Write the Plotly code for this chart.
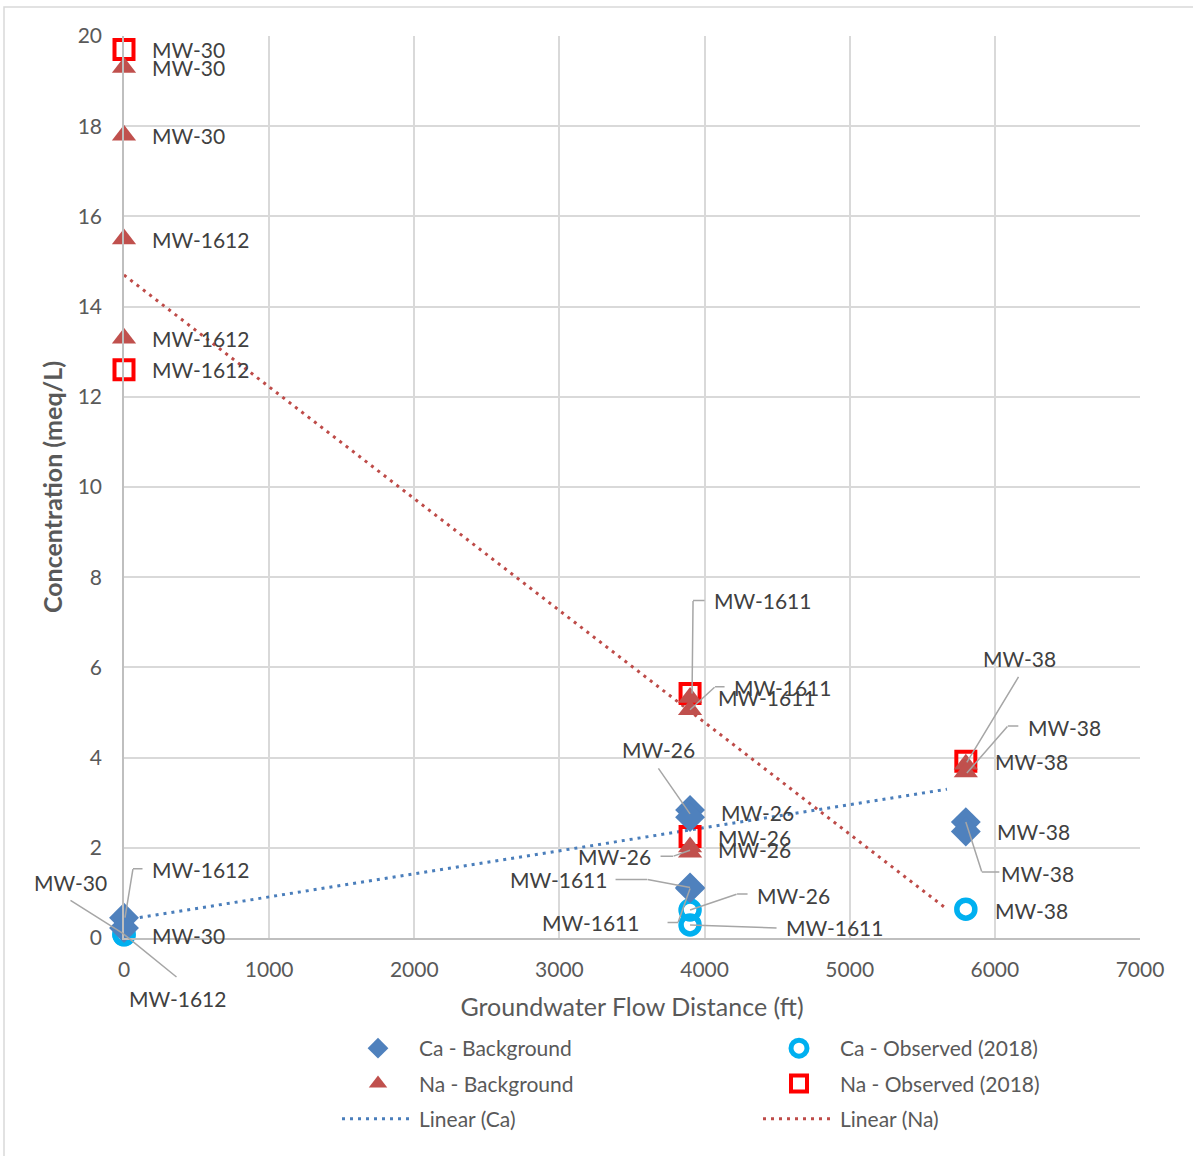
import plotly.graph_objects as go

# ---- data -------------------------------------------------------------
# Ca - Background
ca_bg_x = [0, 0, 3900, 3900, 3900, 3900, 5800, 5800]
ca_bg_y = [0.45, 0.22, 2.84, 2.68, 1.12, 1.10, 2.57, 2.36]
ca_bg_well = ["MW-1612", "MW-30", "MW-26", "MW-26", "MW-1611", "MW-1611", "MW-38", "MW-38"]

# Ca - Observed (2018)
ca_obs_x = [0, 0, 3900, 3900, 5800]
ca_obs_y = [0.07, 0.08, 0.62, 0.29, 0.64]
ca_obs_well = ["MW-30", "MW-1612", "MW-26", "MW-1611", "MW-38"]

# Na - Background
na_bg_x = [0, 0, 0, 0, 3900, 3900, 3900, 3900, 5800, 5800]
na_bg_y = [19.3, 17.8, 15.5, 13.3, 5.33, 5.06, 2.02, 1.90, 3.85, 3.68]
na_bg_well = ["MW-30", "MW-30", "MW-1612", "MW-1612", "MW-1611", "MW-1611",
              "MW-26", "MW-26", "MW-38", "MW-38"]

# Na - Observed (2018)
na_obs_x = [0, 0, 3900, 3900, 5800]
na_obs_y = [19.7, 12.6, 5.42, 2.25, 3.92]
na_obs_well = ["MW-30", "MW-1612", "MW-1611", "MW-26", "MW-38"]

# Linear trendlines (end points)
trend_x = [0, 5670]
ca_trend_y = [0.40, 3.30]
na_trend_y = [14.70, 0.64]

x_ticks = [0, 1000, 2000, 3000, 4000, 5000, 6000, 7000]
y_ticks = [0, 2, 4, 6, 8, 10, 12, 14, 16, 18, 20]

# ---- label placement (screen-pixel offsets from each point, y down) ----
# ("side", dx, dy, None): text left edge dx right of the point
# ("lead", ax, ay, leader): text centred at (ax, ay); leader is an elbow
#                          polyline from the label towards the point
ca_bg_lab = [
    ("lead", 76, -48, [(19, -49), (9, -49), (1, 0)]),
    ("lead", -54, -46, [(-54, -28), (0, 6)]),
    ("lead", -32, -60, [(-32, -42), (0, 4)]),
    ("side", 29, -5, None),
    ("lead", -132, -8, [(-75, -8), (-43, -8), (0, 0)]),
    ("lead", -100, 34, [(-23, 34), (-12, 34), (0, 0)]),
    ("lead", 72, 51, [(34, 50), (16, 50), (0, 0)]),
    ("side", 29, 0, None),
]
ca_obs_lab = [
    ("side", 26, 1, None),
    ("lead", 53, 64, [(53, 43), (0, 0)]),
    ("lead", 103, -15, [(58, -16), (47, -16), (0, 0)]),
    ("lead", 144, 3, [(87, 3), (0, 0)]),
    ("side", 27, 1, None),
]
na_bg_lab = [
    ("side", 26, 0, None),
    ("side", 26, 0, None),
    ("side", 26, 1, None),
    ("side", 26, 0, None),
    ("side", 26, 0, None),
    ("lead", 92, -22, [(35, -23), (25, -23), (0, 0)]),
    ("side", 26, 3, None),
    ("lead", -76, 4, [(-30, 4), (-17, 4), (0, -2)]),
    ("lead", 54, -106, [(53, -88), (1, -2)]),
    ("lead", 99, -45, [(53, -46), (42, -46), (1, 1)]),
]
na_obs_lab = [
    ("side", 26, 0, None),
    ("side", 26, 0, None),
    ("lead", 72, -93, [(15, -93), (3, -93), (2, 0)]),
    ("side", 26, 1, None),
    ("side", 27, 0, None),
]

FONT = "Lato"
TXT = "#404040"
AX = "#595959"
LEADER = "#A6A6A6"

W, H = 1193, 1156
ML, MR, MT, MB = 124, 53, 36, 218
PW, PH = W - ML - MR, H - MT - MB


def px_x(p):
    return (p - ML) / PW


def px_y(p):
    return (MT + PH - p) / PH


fig = go.Figure()

# trendlines
fig.add_trace(go.Scatter(x=trend_x, y=ca_trend_y, mode="lines", name="Linear (Ca)",
                         line=dict(color="#4A7EBB", width=3, dash="3px,5px"),
                         legend="legend", legendgroup="g3", legendrank=3, hoverinfo="skip"))
fig.add_trace(go.Scatter(x=trend_x, y=na_trend_y, mode="lines", name="Linear (Na)",
                         line=dict(color="#BE4B48", width=3, dash="3px,5px"),
                         legend="legend2", legendgroup="h3", legendrank=3, hoverinfo="skip"))

# observed markers
fig.add_trace(go.Scatter(x=ca_obs_x, y=ca_obs_y, mode="markers", name="Ca - Observed (2018)",
                         marker=dict(symbol="circle-open", size=18, color="#00B0F0",
                                     line=dict(width=5.5)),
                         legend="legend2", legendgroup="h1", legendrank=1, cliponaxis=False))
fig.add_trace(go.Scatter(x=na_obs_x, y=na_obs_y, mode="markers", name="Na - Observed (2018)",
                         marker=dict(symbol="square-open", size=19, color="#FF0000",
                                     line=dict(width=4)),
                         legend="legend2", legendgroup="h2", legendrank=2, cliponaxis=False))

# background markers
fig.add_trace(go.Scatter(x=ca_bg_x, y=ca_bg_y, mode="markers", name="Ca - Background",
                         marker=dict(symbol="diamond", size=23, color="#4F81BD"),
                         legend="legend", legendgroup="g1", legendrank=1, cliponaxis=False))
fig.add_trace(go.Scatter(x=na_bg_x, y=na_bg_y, mode="markers", name="Na - Background",
                         marker=dict(symbol="triangle-up", size=21, color="#C0504D"),
                         legend="legend", legendgroup="g2", legendrank=2, cliponaxis=False))

# data labels; leader segments are drawn as headless annotation arrows so
# they are not clipped at the plot edge
annotations = []
label_font = dict(family=FONT, size=21, color=TXT)
for xs, ys, wells, labs in [(ca_bg_x, ca_bg_y, ca_bg_well, ca_bg_lab),
                            (ca_obs_x, ca_obs_y, ca_obs_well, ca_obs_lab),
                            (na_bg_x, na_bg_y, na_bg_well, na_bg_lab),
                            (na_obs_x, na_obs_y, na_obs_well, na_obs_lab)]:
    for x, y, w, (kind, a, b, leader) in zip(xs, ys, wells, labs):
        anchor = "left" if kind == "side" else "center"
        annotations.append(dict(x=x, y=y, xref="x", yref="y", text=w, showarrow=False,
                                xanchor=anchor, yanchor="middle", xshift=a, yshift=-b,
                                font=label_font))
        if leader:
            for (sx, sy), (ex, ey) in zip(leader[:-1], leader[1:]):
                annotations.append(dict(x=x, y=y, xref="x", yref="y", text="",
                                        showarrow=True, arrowhead=0, arrowwidth=1.5,
                                        arrowcolor=LEADER, standoff=0, startstandoff=0,
                                        xshift=ex, yshift=-ey, ax=sx - ex, ay=sy - ey,
                                        borderpad=0))

# chart border
shapes = [dict(type="rect", xref="paper", yref="paper",
               x0=px_x(4), x1=px_x(1205), y0=px_y(1170), y1=px_y(7),
               line=dict(color="#D9D9D9", width=1.5), fillcolor="rgba(0,0,0,0)",
               layer="below")]

legend_common = dict(orientation="v", traceorder="grouped", tracegroupgap=5,
                     font=dict(family=FONT, size=21, color=AX), itemwidth=72,
                     bgcolor="rgba(0,0,0,0)", xanchor="left", yanchor="top",
                     itemclick=False, itemdoubleclick=False)

fig.update_layout(
    width=W, height=H,
    margin=dict(l=ML, r=MR, t=MT, b=MB),
    paper_bgcolor="white", plot_bgcolor="white",
    font=dict(family=FONT, size=21, color=AX),
    showlegend=True,
    legend=dict(x=px_x(337), y=px_y(1028), **legend_common),
    legend2=dict(x=px_x(758), y=px_y(1028), **legend_common),
    annotations=annotations,
    shapes=shapes,
    xaxis=dict(range=[0, 7000], tickvals=x_ticks, showgrid=True, gridcolor="#D9D9D9",
               gridwidth=1.5, zeroline=False, showline=True, linecolor="#BFBFBF",
               linewidth=1.5, ticks="", ticklabelstandoff=12,
               tickfont=dict(family=FONT, size=21, color=AX),
               title=dict(text="Groundwater Flow Distance (ft)", standoff=19,
                          font=dict(family=FONT, size=25, color=AX))),
    yaxis=dict(range=[0, 20], tickvals=y_ticks, showgrid=True, gridcolor="#D9D9D9",
               gridwidth=1.5, zeroline=False, showline=True, linecolor="#BFBFBF",
               linewidth=1.5, ticks="", ticklabelstandoff=16,
               tickfont=dict(family=FONT, size=21, color=AX),
               title=dict(text="<b>Concentration (meq/L)</b>", standoff=8,
                          font=dict(family=FONT, size=25, color=AX))),
)

fig.write_html("out.html")
